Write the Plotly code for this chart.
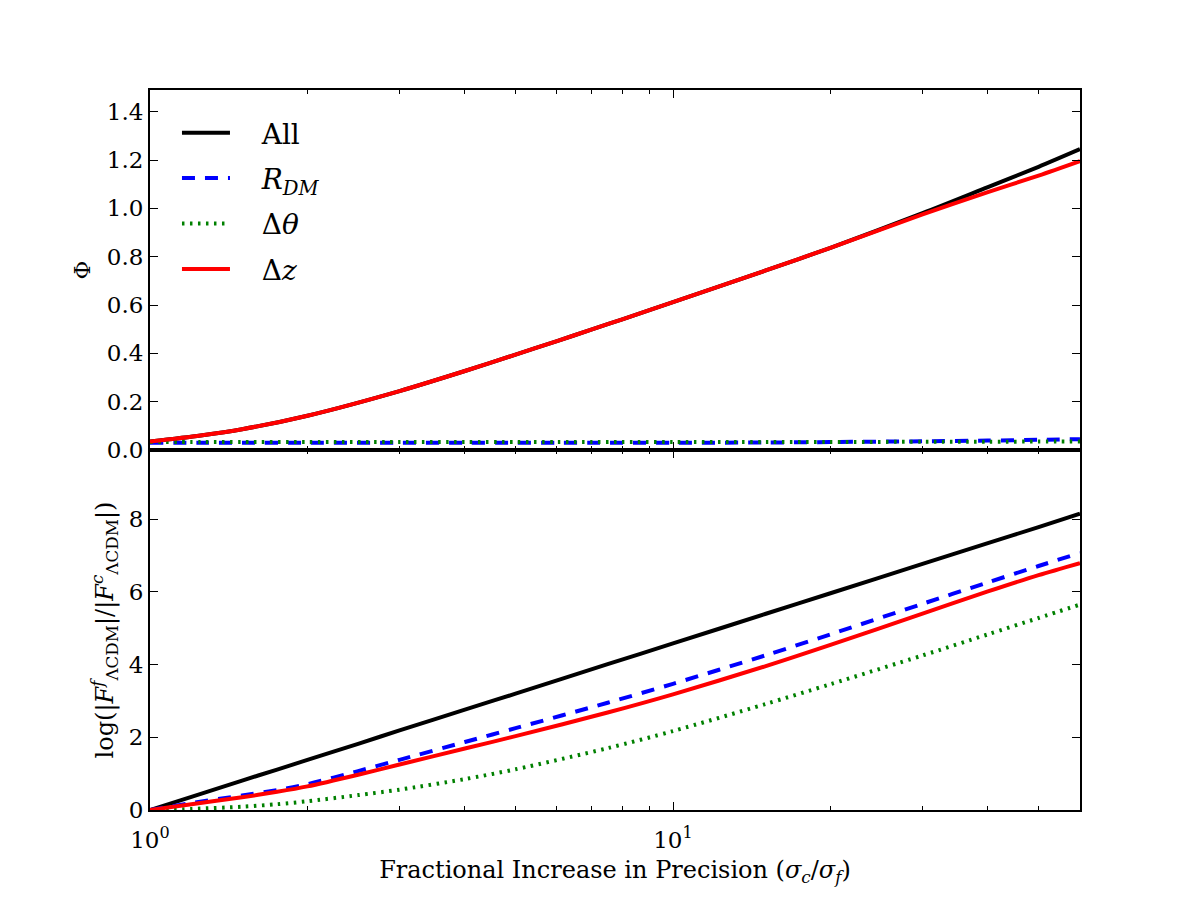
import plotly.graph_objects as go
from plotly.subplots import make_subplots

# ---------------- data ----------------
# Top panel: Phi vs fractional increase in precision
x_top = [1, 1.25, 1.5, 2, 3, 4, 5, 6, 7, 8, 10, 15, 20, 30, 40, 50, 60]
phi_all = [0.035, 0.060, 0.086, 0.142, 0.244, 0.327, 0.395, 0.451, 0.499, 0.541,
           0.612, 0.742, 0.837, 0.980, 1.088, 1.172, 1.245]
phi_rdm = [0.030, 0.030, 0.030, 0.030, 0.030, 0.030, 0.030, 0.030, 0.030, 0.030,
           0.030, 0.031, 0.033, 0.036, 0.039, 0.042, 0.045]
phi_dtheta = [0.033, 0.033, 0.033, 0.033, 0.033, 0.033, 0.033, 0.033, 0.033, 0.033,
              0.033, 0.033, 0.033, 0.034, 0.034, 0.035, 0.035]
phi_dz = [0.035, 0.060, 0.086, 0.142, 0.244, 0.327, 0.395, 0.451, 0.499, 0.541,
          0.612, 0.742, 0.837, 0.975, 1.067, 1.136, 1.196]

# Bottom panel: log(|F^f|/|F^c|)
x_bot = [1, 1.2, 1.5, 1.75, 2, 2.5, 3, 4, 5, 7.5, 10, 15, 20, 30, 40, 50, 60]
f_all = [0, 0.36, 0.81, 1.11, 1.38, 1.82, 2.19, 2.76, 3.20, 4.01, 4.58, 5.39, 5.96,
         6.77, 7.34, 7.78, 8.15]
f_rdm = [0, 0.19, 0.40, 0.55, 0.71, 1.07, 1.38, 1.87, 2.25, 2.95, 3.47, 4.25, 4.83,
         5.67, 6.26, 6.71, 7.07]
f_dtheta = [0, 0.03, 0.09, 0.16, 0.24, 0.41, 0.56, 0.85, 1.12, 1.70, 2.17, 2.91, 3.46,
            4.25, 4.83, 5.28, 5.65]
f_dz = [0, 0.16, 0.35, 0.50, 0.65, 0.97, 1.25, 1.69, 2.03, 2.68, 3.18, 3.95, 4.54,
        5.40, 6.01, 6.46, 6.79]

PAD = "\u00a0\u00a0\u00a0"
names = [PAD + "All", PAD + "<i>R</i><sub><i>DM</i></sub>", PAD + "Δ<i>θ</i>", PAD + "Δ<i>z</i>"]
colors = ["#000000", "#0000ff", "#008000", "#ff0000"]
dashes = ["solid", "13px,10px", "2.5px,5.5px", "solid"]

x_tickvals = [1, 10]
x_ticktext = ["10<sup>0</sup>", "10<sup>1</sup>"]
x_minor = [2, 3, 4, 5, 6, 7, 8, 9, 20, 30, 40, 50]

FONT = "DejaVu Serif, Liberation Serif, serif"

fig = make_subplots(rows=2, cols=1, shared_xaxes=True, vertical_spacing=0)

top_series = [phi_all, phi_rdm, phi_dtheta, phi_dz]
bot_series = [f_all, f_rdm, f_dtheta, f_dz]

for i in range(4):
    fig.add_trace(go.Scatter(
        x=x_top, y=top_series[i], mode="lines", name=names[i],
        line=dict(color=colors[i], width=4, dash=dashes[i], shape="spline", smoothing=0.8),
        legendgroup=str(i), showlegend=True), row=1, col=1)
for i in range(4):
    fig.add_trace(go.Scatter(
        x=x_bot, y=bot_series[i], mode="lines", name=names[i],
        line=dict(color=colors[i], width=4, dash=dashes[i], shape="spline", smoothing=0.8),
        legendgroup=str(i), showlegend=False), row=2, col=1)

axis_common = dict(
    showline=True, linecolor="black", linewidth=2, mirror="allticks",
    ticks="inside", ticklen=8, tickwidth=1, tickcolor="black",
    showgrid=False, zeroline=False,
    tickfont=dict(family=FONT, size=23, color="black"),
)

for r in (1, 2):
    fig.update_xaxes(
        type="log", range=[0, 1.7782],
        tickmode="array", tickvals=x_tickvals, ticktext=x_ticktext,
        minor=dict(tickmode="array", tickvals=x_minor, ticks="inside", ticklen=4,
                   tickwidth=1, tickcolor="black", showgrid=False),
        **axis_common, row=r, col=1)

fig.update_xaxes(showticklabels=False, row=1, col=1)
fig.update_xaxes(
    title=dict(text="Fractional Increase in Precision (<i>σ<sub>c</sub></i>/<i>σ<sub>f</sub></i>)",
               font=dict(family=FONT, size=24, color="black"), standoff=10),
    ticklabelstandoff=8, row=2, col=1)

fig.update_yaxes(range=[0, 1.49], tickmode="array",
                 tickvals=[0, 0.2, 0.4, 0.6, 0.8, 1.0, 1.2, 1.4],
                 ticktext=["0.0", "0.2", "0.4", "0.6", "0.8", "1.0", "1.2", "1.4"],
                 title=dict(text="Φ", font=dict(family=FONT, size=23, color="black"), standoff=10),
                 **axis_common, row=1, col=1)
fig.update_yaxes(range=[0, 9.9], tickmode="array",
                 tickvals=[0, 2, 4, 6, 8], ticktext=["0", "2", "4", "6", "8"],
                 title=dict(text="log(|<i>F</i><sup><i>f</i></sup><sub>ΛCDM</sub>|/|<i>F</i><sup><i>c</i></sup><sub>ΛCDM</sub>|)",
                            font=dict(family=FONT, size=24, color="black"), standoff=8),
                 **axis_common, row=2, col=1)

fig.update_layout(
    width=1200, height=900,
    margin=dict(l=150, r=120, t=90, b=90, autoexpand=False),
    paper_bgcolor="white", plot_bgcolor="white",
    font=dict(family=FONT, size=23, color="black"),
    legend=dict(x=0.029, y=0.975, xanchor="left", yanchor="top",
                bgcolor="rgba(0,0,0,0)", borderwidth=0,
                font=dict(family=FONT, size=28, color="black"),
                tracegroupgap=6, itemwidth=48),
)

fig.write_html("out.html")
